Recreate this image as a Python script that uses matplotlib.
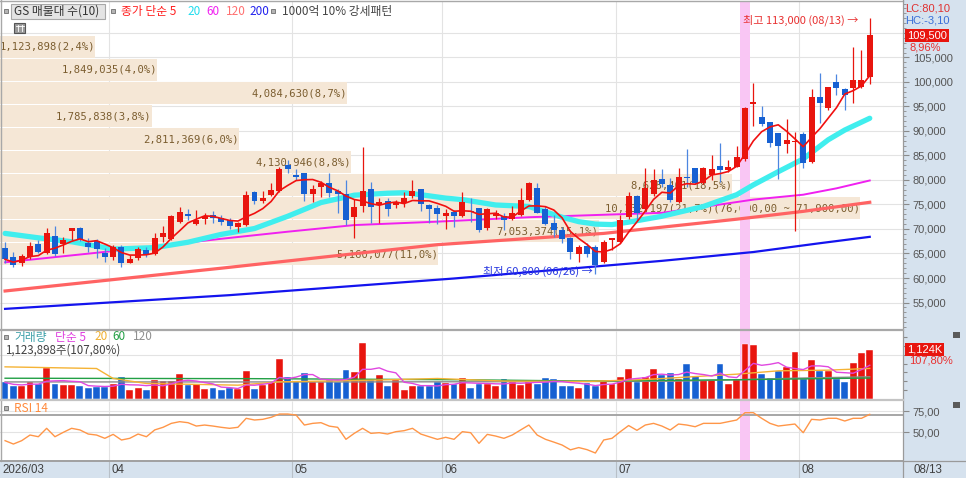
import numpy as np
import pandas as pd
import matplotlib
matplotlib.use("Agg")
import matplotlib.pyplot as plt
from matplotlib.patches import Rectangle
from matplotlib.lines import Line2D
from matplotlib.ticker import FuncFormatter, MultipleLocator
from matplotlib.transforms import blended_transform_factory as blend

plt.rcParams['font.family'] = ['Noto Sans CJK KR', 'DejaVu Sans']
plt.rcParams['axes.unicode_minus'] = False
NUM = ['Liberation Sans', 'DejaVu Sans']
MONO = ['DejaVu Sans Mono']

# daily sessions 2026-03-13 .. 2026-08-13
opens = [66050, 64350, 62990, 64220, 66940, 65170, 68570, 66870, 69590, 70200,
         67210, 67620, 65170, 64220, 66390, 62990, 64010, 65710, 64900, 68430,
         67890, 71500, 73060, 71020, 71970, 72790, 72280, 71900, 70480, 70820,
         77480, 75710, 76940, 77820, 83000, 81000, 81360, 77140, 78640, 79320,
         77750, 77140, 72380, 74690, 78160, 74900, 75780, 74900, 75370, 76730,
         78090, 74830, 74300, 72650, 73400, 72650, 73700, 74220, 70140, 72650,
         72720, 71970, 72860, 75920, 78300, 74080, 71160, 69790, 68090, 64900,
         66530, 66390, 63330, 67750, 67350, 72350, 76730, 74050, 77100, 80140,
         78980, 75580, 80680, 82380, 79320, 81020, 82860, 82100, 82720, 84200,
         95600, 92920, 91900, 89660, 87350, 87800, 89320, 83740, 97010, 94630,
         100070, 98500, 98710, 98910, 101090]
highs = [67400, 65370, 64830, 67410, 67760, 70130, 70610, 68300, 70200, 70480,
         68090, 67890, 66050, 66730, 66730, 64690, 66390, 66390, 69110, 70610,
         72860, 74420, 74010, 73880, 73330, 73670, 72860, 72280, 71500, 77750,
         77750, 77820, 79320, 82720, 84000, 82200, 81500, 78980, 79860, 81500,
         78090, 80000, 76050, 86670, 79660, 76260, 76260, 75920, 77620, 80000,
         78090, 75200, 74900, 74010, 73880, 77620, 76260, 74220, 74220, 73880,
         73200, 74690, 78300, 79520, 79320, 74690, 72860, 70480, 68430, 66730,
         67070, 66730, 67750, 68230, 72860, 77620, 76940, 82380, 82280, 82180,
         80340, 82380, 86260, 82380, 82720, 85100, 87480, 84080, 86940, 94900,
         99730, 95100, 91900, 89660, 92450, 89860, 89860, 98500, 101900, 98910,
         101630, 98710, 107210, 106530, 113000]
lows = [62990, 62180, 62450, 63940, 65030, 64900, 64490, 65030, 67750, 67620,
        65370, 64010, 63330, 63670, 62310, 62990, 63670, 64350, 64690, 67410,
        67750, 71290, 71840, 70820, 71020, 71160, 70820, 70100, 69450, 70610,
        75100, 75240, 76730, 77620, 81500, 80000, 75780, 75580, 76600, 76600,
        73200, 70820, 68090, 73540, 71290, 71160, 72650, 74220, 74560, 76260,
        73670, 71300, 71000, 69930, 70480, 72380, 71500, 69450, 69790, 71970,
        69790, 71840, 72650, 75780, 73200, 70820, 68430, 67070, 63810, 63330,
        64220, 60800, 62990, 65710, 67070, 72000, 71840, 73700, 76770, 78640,
        75580, 75370, 78500, 79180, 79180, 80000, 79660, 81700, 82580, 83900,
        90950, 91020, 86800, 80130, 85580, 69600, 82380, 83400, 91560, 94290,
        97350, 94290, 95780, 98710, 99590]
closes = [63810, 62650, 64490, 66530, 65370, 69250, 64830, 67750, 70200, 67890,
          66390, 65850, 64350, 66390, 62990, 63810, 65850, 64690, 68090, 69250,
          72650, 73540, 72720, 71840, 72650, 72180, 71390, 70700, 71160, 76940,
          75780, 76260, 77960, 82180, 82300, 80700, 77140, 78160, 79320, 77280,
          77070, 71840, 74560, 77820, 74560, 75440, 74080, 75580, 76260, 77750,
          75100, 73980, 73000, 73330, 72720, 75580, 73500, 69790, 74010, 73200,
          71840, 73200, 75920, 79320, 73330, 71020, 69790, 67890, 65370, 66260,
          64900, 62650, 67410, 68090, 71900, 76730, 73200, 78370, 80000, 79180,
          75920, 80680, 80480, 79460, 82380, 82180, 82040, 82640, 84760, 94760,
          95700, 91430, 87500, 86940, 88160, 87960, 83400, 97010, 95780, 98910,
          98710, 97350, 100410, 100500, 109500]
volumes = [367000, 283000, 283000, 382000, 329000, 703000, 329000, 306000, 306000, 283000,
           252000, 268000, 268000, 344000, 497000, 191000, 252000, 191000, 420000, 405000,
           405000, 558000, 306000, 329000, 229000, 252000, 191000, 245000, 229000, 627000,
           229000, 306000, 367000, 895000, 482000, 405000, 596000, 367000, 367000, 420000,
           367000, 665000, 612000, 1284000, 420000, 535000, 283000, 420000, 206000, 283000,
           283000, 283000, 382000, 359000, 329000, 459000, 252000, 344000, 344000, 283000,
           443000, 367000, 306000, 405000, 329000, 474000, 443000, 283000, 298000, 252000,
           359000, 290000, 405000, 344000, 482000, 688000, 382000, 497000, 688000, 535000,
           589000, 436000, 780000, 520000, 420000, 420000, 780000, 344000, 436000, 1246000,
           1223000, 558000, 459000, 627000, 726000, 1070000, 436000, 879000, 627000, 627000,
           443000, 382000, 818000, 1042600, 1123898]
rsi14 = [39.7, 35.7, 39.7, 46.4, 44.4, 54.4, 44.4, 49.6, 54.4, 52.5,
         47.6, 46.4, 42.5, 47.2, 40.5, 42.5, 47.6, 44.4, 52.5, 55.6,
         60.3, 62.3, 61.1, 57.1, 58.3, 57.1, 55.6, 54.4, 55.6, 66.3,
         64.3, 65.1, 67.5, 71.4, 71.4, 70.2, 58.3, 60.3, 61.1, 57.0,
         55.6, 41.3, 48.4, 54.4, 48.4, 49.2, 47.6, 50.4, 51.6, 54.4,
         47.6, 44.4, 41.3, 43.7, 41.3, 50.4, 49.2, 36.5, 47.2, 45.2,
         42.5, 46.4, 52.4, 58.3, 46.4, 41.3, 38.0, 34.5, 28.8, 31.5,
         29.0, 25.0, 40.5, 42.5, 50.4, 57.7, 52.0, 58.3, 60.3, 57.1,
         52.4, 59.5, 58.3, 56.3, 60.3, 60.3, 60.3, 62.3, 64.3, 73.0,
         73.0, 66.3, 60.3, 57.1, 58.3, 59.5, 49.2, 65.1, 64.3, 66.3,
         66.3, 63.1, 66.3, 66.3, 71.0]

# price moving averages (session index, price)
ma20_x = [0, 4, 8, 13, 18, 22, 26, 30, 34, 38, 42, 46, 48, 50, 53, 55, 59, 63, 65,
          67, 69, 71, 73, 75, 77, 79, 84, 88, 90, 93, 96, 99, 101, 104]
ma20_v = [69100, 68200, 67400, 65900, 66200, 67300, 68900, 70100, 72600, 75400, 76900,
          77300, 77400, 77000, 76300, 76000, 74900, 74600, 73500, 72400, 71500, 71000,
          70900, 71400, 72000, 72600, 74600, 77000, 79000, 81700, 84300, 88200, 90200, 92600]
ma60_x = [0, 13, 26, 34, 42, 52, 63, 71, 79, 84, 90, 96, 100, 104]
ma60_v = [63200, 65500, 68000, 69450, 70800, 71500, 72400, 72850, 73300, 74500, 76000,
          77000, 78300, 79900]
ma120_x = [0, 26, 52, 72, 88, 96, 104]
ma120_v = [57350, 62000, 66800, 69100, 72000, 73600, 75450]
ma200_x = [0, 27, 54, 79, 90, 98, 104]
ma200_v = [53700, 56500, 59900, 63500, 65300, 67100, 68400]

# volume moving averages
vma20_x = [0, 11, 13, 17, 28, 33, 44, 52, 60, 70, 77, 88, 93, 99, 104]
vma20_v = [726000, 688000, 459000, 344000, 306000, 382000, 420000, 459000, 400000,
           390000, 436000, 558000, 635000, 650000, 690000]
vma60_x = [0, 30, 55, 70, 88, 104]
vma60_v = [465000, 455000, 430000, 400000, 430000, 470000]
vma120_x = [0, 40, 60, 80, 88, 96, 104]
vma120_v = [380000, 380000, 385000, 395000, 430000, 470000, 497000]

# volume profile (10 price bands)
prof_lo = [62500, 67200, 71900, 76600, 81300, 86000, 90700, 95400, 100100, 104800]
prof_hi = [67200, 71900, 76600, 81300, 86000, 90700, 95400, 100100, 104800, 109500]
prof_vol = [5160077, 7053374, 10132197, 8628401, 4130946, 2811369, 1785838, 4084630,
            1849035, 1123898]
prof_pct = [11.0, 15.1, 21.7, 18.5, 8.8, 6.0, 3.8, 8.7, 4.0, 2.4]

month_start = [13, 35, 53, 74, 96]
month_lbl = ['04', '05', '06', '07', '08']
mark_day = 89

W, H = 966, 478
fig = plt.figure(figsize=(W / 100, H / 100), dpi=100)
fig.patch.set_facecolor('white')


def rect(x0, y0, x1, y1):
    return [x0 / W, 1 - y1 / H, (x1 - x0) / W, (y1 - y0) / H]


def ftext(x, y, s, **kw):
    kw.setdefault('va', 'center')
    return fig.text(x / W, 1 - y / H, s, **kw)


def fline(x0, y0, x1, y1, **kw):
    fig.add_artist(Line2D([x0 / W, x1 / W], [1 - y0 / H, 1 - y1 / H],
                          transform=fig.transFigure, **kw))


def fbox(x0, y0, x1, y1, **kw):
    fig.add_artist(Rectangle((x0 / W, 1 - y1 / H), (x1 - x0) / W, (y1 - y0) / H,
                             transform=fig.transFigure, **kw))


PANEL = '#D6E2EE'
GRID = '#E3E3E3'
RED = '#E8150E'
BLUE = '#1660D2'

fbox(903, 0, 966, 478, facecolor=PANEL, edgecolor='none', zorder=-5)
fbox(0, 461, 966, 478, facecolor=PANEL, edgecolor='none', zorder=-5)

o = np.array(opens, float)
c = np.array(closes, float)
hi = np.array(highs, float)
lo = np.array(lows, float)
vol = np.array(volumes, float)
n = len(c)
idx = np.arange(n)
up = c >= o
XL = (-0.61, 108.0)
edges = np.array(month_start) - 0.5

# ---------------- price panel ----------------
YL = (49592, 116530)
ax_prof = fig.add_axes(rect(0, 1, 903, 329))
ax = fig.add_axes(rect(0, 1, 903, 329))
ax.patch.set_visible(False)
for a in (ax_prof, ax):
    a.set_ylim(YL)
    for s in a.spines.values():
        s.set_visible(False)
ax.set_xlim(XL)
ax_prof.set_xlim(0, max(prof_vol) * 903 / 860)
ax_prof.set_xticks([])
ax_prof.set_yticks([])

yt = np.arange(55000, 110001, 5000)
ax_prof.hlines(yt, 0, 1, transform=blend(ax_prof.transAxes, ax_prof.transData),
               color=GRID, lw=0.8, zorder=0)
ax_prof.vlines(edges, 0, 1, transform=blend(ax.transData, ax_prof.transAxes),
               color=GRID, lw=0.8, zorder=0)

gap = 300
ax_prof.barh(np.array(prof_lo) + gap / 2, prof_vol,
             height=np.array(prof_hi) - np.array(prof_lo) - gap,
             align='edge', color='#F5E7D6', zorder=2)
imax = int(np.argmax(prof_vol))
for k in range(len(prof_vol)):
    s = f"{prof_vol[k]:,}({prof_pct[k]:.1f}%)".replace('.', ',')
    if k == imax:
        s += f"({prof_hi[k]:,}.00 ~ {prof_lo[k]:,}.00)".replace('.', ',')
    ax_prof.text(prof_vol[k], (prof_lo[k] + prof_hi[k]) / 2, s, ha='right', va='center',
                 family=MONO, fontsize=7.6, color='#7B5D2F', zorder=3)

ax.axvspan(mark_day - 0.55, mark_day + 0.55, color='#F9C6F4', lw=0, zorder=0.5)

ax.plot(ma200_x, ma200_v, color='#1414EE', lw=1.6, zorder=2)
ax.plot(ma120_x, ma120_v, color='#FF6363', lw=2.3, zorder=2)
ax.plot(ma60_x, ma60_v, color='#F020F0', lw=1.4, zorder=2)
ax.plot(ma20_x, ma20_v, color='#40EEEE', lw=3.8, zorder=2, solid_capstyle='round')

wick_col = np.where(up, RED, '#4C86E0')
ax.vlines(idx, lo, hi, colors=wick_col, lw=0.9, zorder=4)
body_lo = np.minimum(o, c)
body_h = np.maximum(np.abs(c - o), 220)
ax.bar(idx, body_h, bottom=body_lo, width=0.72, color=np.where(up, RED, BLUE),
       lw=0, zorder=5)

ma5 = pd.Series(c).rolling(5, min_periods=1).mean()
ax.plot(idx, ma5, color='#F01010', lw=1.2, zorder=6)

ax.yaxis.tick_right()
ax.set_yticks(yt)
ax.yaxis.set_minor_locator(MultipleLocator(1000))
# the top label sits under the last-price tag
ax.yaxis.set_major_formatter(FuncFormatter(lambda v, p: "" if v >= 110000 else f"{int(v):,}"))
ax.tick_params(axis='y', which='major', direction='out', length=4, color='#8A8A8A',
               labelsize=8, labelcolor='#555555', pad=3)
ax.tick_params(axis='y', which='minor', direction='out', length=2, color='#8A8A8A')
for t in ax.get_yticklabels():
    t.set_family(NUM)
ax.set_xticks([])

ihi = int(np.argmax(hi))
ilo = int(np.argmin(lo))
ax.text(ihi - 1.4, hi[ihi] - 300, f"최고 {int(hi[ihi]):,} (08/13) →", ha='right', va='center',
        fontsize=8, color='#E83030', zorder=7)
ax.text(ilo - 0.3, lo[ilo] + 500, f"최저 {int(lo[ilo]):,} (06/26) →", ha='right', va='center',
        fontsize=8, color='#2838E0', zorder=7)

# price tag on the right axis
chg = (c[-1] / c[-2] - 1) * 100
ax.text(907 / W, c[-1], f"{int(c[-1]):,}", transform=blend(fig.transFigure, ax.transData),
        ha='left', va='center', family=NUM, fontsize=8, color='white', zorder=9,
        bbox=dict(boxstyle='square,pad=0.15', fc=RED, ec='none'))
ftext(909, 47.5, f"{chg:.2f}%".replace('.', ','), family=NUM, fontsize=8, color='#E83030')
ftext(905, 8.5, "LC:80,10", family=NUM, fontsize=8, color='#E03030')
ftext(905, 20.5, "HC:-3,10", family=NUM, fontsize=8, color='#3A6FD8')

# legend line of price panel
fbox(10.5, 3.5, 105, 18.5, facecolor='#E4E4E4', edgecolor='#A8A8A8', lw=0.8, zorder=3)
for xs in (3.5, 110.5, 271):
    fbox(xs, 9, xs + 4, 13, facecolor='#B4B4B4', edgecolor='#6E6E6E', lw=0.6, zorder=3)
ftext(14, 11.3, "GS 매물대 수(10)", fontsize=8.5, color='#333333', zorder=4)
ftext(121.5, 11.3, "종가 단순 5", fontsize=8.5, color='#FF2020')
ftext(187.5, 11.3, "20", fontsize=8.5, color='#22DDEE')
ftext(206.5, 11.3, "60", fontsize=8.5, color='#F020F0')
ftext(225.5, 11.3, "120", fontsize=8.5, color='#FF7070')
ftext(249.5, 11.3, "200", fontsize=8.5, color='#2222EE')
ftext(281.5, 11.3, "1000억 10% 강세패턴", fontsize=8.5, color='#444444')
fbox(14, 22.5, 25, 33, facecolor='#9A9A9A', edgecolor='#555555', lw=0.8, zorder=3)
for gx in (17.5, 21.5):
    fline(gx, 25, gx, 31, color='white', lw=0.6, zorder=4)
fline(15.5, 26, 23.5, 26, color='white', lw=0.6, zorder=4)

# ---------------- volume panel ----------------
ax_vol = fig.add_axes(rect(0, 331, 903, 398.5))
ax_vol.set_xlim(XL)
ax_vol.set_ylim(0, 67.5 * 22937)
for s in ax_vol.spines.values():
    s.set_visible(False)
ax_vol.axhline(1000000, color=GRID, lw=0.8, zorder=0)
ax_vol.vlines(edges, 0, 1, transform=ax_vol.get_xaxis_transform(), color=GRID, lw=0.8, zorder=0)
ax_vol.axvspan(mark_day - 0.55, mark_day + 0.55, color='#F9C6F4', lw=0, zorder=0.5)
ax_vol.bar(idx, vol, width=0.82, color=np.where(up, RED, BLUE), edgecolor='white',
           lw=0.3, zorder=2)
vma5 = pd.Series(vol).rolling(5, min_periods=1).mean()
ax_vol.plot(vma120_x, vma120_v, color='#8C8C8C', lw=1.0, zorder=3)
ax_vol.plot(vma60_x, vma60_v, color='#22A045', lw=1.0, zorder=3)
ax_vol.plot(vma20_x, vma20_v, color='#F5B335', lw=1.0, zorder=3)
ax_vol.plot(idx, vma5, color='#E048E0', lw=1.0, zorder=3)
ax_vol.set_xticks([])
ax_vol.yaxis.tick_right()
ax_vol.set_yticks(np.arange(200000, 1500001, 200000))
ax_vol.set_yticklabels([])
ax_vol.tick_params(axis='y', direction='out', length=3, color='#8A8A8A')

fbox(3.5, 335, 7.5, 339, facecolor='#B4B4B4', edgecolor='#6E6E6E', lw=0.6, zorder=3)
ftext(14, 337, "거래량", fontsize=8.5, color='#3A9FA8')
ftext(55, 337, "단순 5", fontsize=8.5, color='#E040E0')
ftext(94, 337, "20", fontsize=8.5, color='#F0B030')
ftext(112.5, 337, "60", fontsize=8.5, color='#22A045')
ftext(133, 337, "120", fontsize=8.5, color='#909090')
ratio = vol[-1] / vol[-2] * 100
ftext(5, 350, f"{int(vol[-1]):,}주({ratio:.2f}%)".replace('.', ','), fontsize=8.3,
      color='#404040')
ax_vol.text(907 / W, vol[-1], f"{vol[-1] / 1000:,.0f}K", transform=blend(fig.transFigure, ax_vol.transData),
            ha='left', va='center', family=NUM, fontsize=8, color='white', zorder=9,
            bbox=dict(boxstyle='square,pad=0.15', fc=RED, ec='none'))
ftext(909, 360.5, f"{ratio:.2f}%".replace('.', ','), family=NUM, fontsize=8, color='#E83030')

# ---------------- RSI panel ----------------
ax_rsi = fig.add_axes(rect(0, 401, 903, 460))
ax_rsi.set_xlim(XL)
ax_rsi.set_ylim(16.7, 86.9)
for s in ax_rsi.spines.values():
    s.set_visible(False)
ax_rsi.axhline(75, color=GRID, lw=0.8, zorder=0)
ax_rsi.axhline(50, color=GRID, lw=0.8, zorder=0)
ax_rsi.vlines(edges, 0, 1, transform=ax_rsi.get_xaxis_transform(), color=GRID, lw=0.8, zorder=0)
ax_rsi.axvspan(mark_day - 0.55, mark_day + 0.55, color='#F9C6F4', lw=0, zorder=0.5)
ax_rsi.axhline(70, color='#A6A6A6', lw=1.4, zorder=1)
ax_rsi.plot(idx, rsi14, color='#FF9648', lw=1.0, zorder=3)
ax_rsi.set_xticks([])
ax_rsi.yaxis.tick_right()
ax_rsi.set_yticks([50, 75])
ax_rsi.yaxis.set_major_formatter(FuncFormatter(lambda v, p: f"{v:.2f}".replace('.', ',')))
ax_rsi.tick_params(axis='y', direction='out', length=4, color='#8A8A8A', labelsize=8,
                   labelcolor='#555555', pad=3)
for t in ax_rsi.get_yticklabels():
    t.set_family(NUM)
fbox(3.5, 406, 7.5, 410, facecolor='#B4B4B4', edgecolor='#6E6E6E', lw=0.6, zorder=3)
ftext(14, 408.3, "RSI 14", fontsize=8.5, color='#FF8A3C')

# ---------------- date strip ----------------
ax_d = fig.add_axes(rect(0, 461, 903, 478))
ax_d.set_xlim(XL)
ax_d.set_ylim(0, 1)
ax_d.set_facecolor(PANEL)
ax_d.set_xticks([])
ax_d.set_yticks([])
for s in ax_d.spines.values():
    s.set_visible(False)
ax_d.vlines(edges, 0, 1, color='#B8C0C8', lw=0.8)
ax_d.text(XL[0] + 0.3, 0.45, "2026/03", ha='left', va='center', family=NUM, fontsize=8.3,
          color='#404040')
for e, m in zip(edges, month_lbl):
    ax_d.text(e + 0.3, 0.45, m, ha='left', va='center', family=NUM, fontsize=8.3,
              color='#404040')
ftext(913, 470, "08/13", family=NUM, fontsize=8.3, color='#404040')

# frame / separators
fline(0, 0.5, 903, 0.5, color='#A8A8A8', lw=1.0, zorder=8)
fline(0.5, 0, 0.5, 461, color='#A8A8A8', lw=1.0, zorder=8)
fline(903, 0, 903, 478, color='#9A9A9A', lw=0.9, zorder=8)
fline(0, 329.8, 903, 329.8, color='#A8A8A8', lw=1.6, zorder=8)
fline(0, 399.7, 903, 399.7, color='#C4C4C4', lw=1.6, zorder=8)
fline(0, 460.5, 903, 460.5, color='#A0A0A0', lw=1.4, zorder=8)
fline(903, 461, 966, 461, color='#9A9A9A', lw=0.9, zorder=8)
for yy in (335, 405):
    fbox(953, yy - 3, 960, yy + 3, facecolor='#5A5A5A', edgecolor='none', zorder=8)

fig.savefig('out.png', dpi=100)
